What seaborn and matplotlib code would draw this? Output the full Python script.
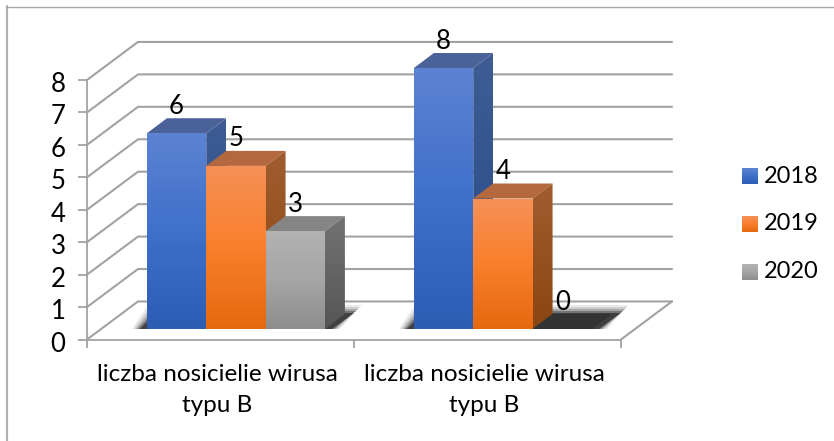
"""
Wykres słupkowy 3D (nosiciele wirusa typu B) odtworzony w seaborn
"""
import pandas as pd
import numpy as np
import matplotlib
matplotlib.use('Agg')
import matplotlib.pyplot as plt
import seaborn as sns
from matplotlib.colors import LinearSegmentedColormap
from matplotlib.lines import Line2D
from matplotlib.patches import Polygon
from matplotlib.transforms import ScaledTranslation

# --- dane ---
category_ids = [0, 1]
category_labels = ['liczba nosicielie wirusa\ntypu B', 'liczba nosicielie wirusa\ntypu B']
years = ['2018', '2019', '2020']
values_2018 = [6, 8]
values_2019 = [5, 4]
values_2020 = [3, 0]

# --- kolory ---
face_colors = {'2018': ('#5C83D2', '#3F70CA', '#2D5DB3'),
               '2019': ('#F59056', '#FA7F2C', '#E4690F'),
               '2020': ('#B2B2B2', '#A5A5A5', '#8E8E8E')}
side_colors = {'2018': ('#3F5C94', '#254A86'),
               '2019': ('#A05D30', '#8A4510'),
               '2020': ('#727272', '#565656')}
top_colors = {'2018': '#4A6298', '2019': '#B4683E', '2020': '#858585'}
zero_color = '#333333'
grid_color = '#A2A2A2'

W, H = 834, 441
sns.set_theme(style='white')
plt.rcParams['font.family'] = ['Lato', 'DejaVu Sans']


def px_axes(fig, left, top, right, bottom, **kw):
    return fig.add_axes([left / W, 1 - bottom / H, (right - left) / W, (bottom - top) / H], **kw)


def gradient_poly(ax, verts, colors, zorder):
    """wielokąt z pionowym gradientem (colors od góry do dołu)"""
    poly = Polygon(verts, closed=True, fc='none', ec='none')
    ax.add_patch(poly)
    cmap = LinearSegmentedColormap.from_list('g', list(colors)[::-1])
    xs = [v[0] for v in verts]
    ys = [v[1] for v in verts]
    im = ax.imshow(np.linspace(0, 1, 64).reshape(-1, 1), cmap=cmap, origin='lower', aspect='auto',
                   extent=[min(xs), max(xs), min(ys), max(ys)], zorder=zorder)
    im.set_clip_path(poly)


df = pd.DataFrame({
    'kategoria': category_ids * 3,
    'rok': [y for y in years for _ in category_ids],
    'liczba': values_2018 + values_2019 + values_2020,
})

fig = plt.figure(figsize=(W / 100, H / 100), dpi=100, facecolor='white')

# ramka wykresu
fig.add_artist(Line2D([6.8 / W, 6.8 / W], [1 - 6 / H, 0], color='#B0B0B0', lw=1.6))
fig.add_artist(Line2D([6 / W, 1], [1 - 6.5 / H, 1 - 6.5 / H], color='#A8A8A8', lw=1.0))

# --- płaszczyzna przednia: osie i siatka ---
frame = px_axes(fig, 87, 80, 621, 339.5)
frame.set_xlim(-0.5, 1.5)
frame.set_ylim(0, 8)
frame.patch.set_alpha(0)
for name in ['top', 'right']:
    frame.spines[name].set_visible(False)
for name in ['left', 'bottom']:
    frame.spines[name].set_color(grid_color)
    frame.spines[name].set_linewidth(1.3)
frame.set_yticks(range(9))
frame.set_xticks([-0.5, 0.5, 1.5])
frame.set_xticklabels([])
frame.set_xticks(category_ids, minor=True)
frame.set_xticklabels(category_labels, minor=True, fontsize=17.5, color='black', linespacing=1.58)
frame.tick_params(axis='y', length=6.5, width=1.3, color=grid_color, left=True, pad=9,
                  labelsize=18.5, labelcolor='black')
frame.tick_params(axis='x', which='major', length=5.5, width=1.3, color=grid_color, bottom=True)
frame.tick_params(axis='x', which='minor', length=0, pad=17.5)

# etykiety osi lekko w lewo / w dół jak w oryginale
shift_x = ScaledTranslation(-3 / 100, 0, fig.dpi_scale_trans)
for lab in frame.get_xticklabels(minor=True):
    lab.set_transform(lab.get_transform() + shift_x)
shift_y = ScaledTranslation(0, -2 / 100, fig.dpi_scale_trans)
for lab in frame.get_yticklabels():
    lab.set_transform(lab.get_transform() + shift_y)

back_x = 51 / 267
back_y = 38 / 32.4
for i in range(9):
    frame.plot([-0.5, -0.5 + back_x, 1.5 + back_x], [i, i + back_y, i + back_y],
               color=grid_color, lw=1.5, clip_on=False, zorder=1, solid_joinstyle='miter')
frame.plot([1.5, 1.5 + back_x], [0, back_y], color=grid_color, lw=1.5, clip_on=False, zorder=1)

# --- słupki ---
ax = px_axes(fig, 102.4, 35.4, 636.4, 329)
ax.patch.set_alpha(0)
sns.barplot(data=df, x='kategoria', y='liczba', hue='rok', hue_order=years, width=2 / 3, gap=0,
            palette={y: face_colors[y][1] for y in years}, errorbar=None, legend=False,
            linewidth=0, ax=ax)
ax.set_xlim(-0.5, 1.5)
ax.set_ylim(0, 9)
ax.set_autoscale_on(False)
ax.axis('off')

depth_x = 20 / 267
depth_y = 15 / 32.6
px_x = 1 / 267
px_y = 1 / 32.6

# cień na podłodze
for k, cat in enumerate(category_ids):
    bars = [c.patches[k] for c in ax.containers]
    x0 = min(b.get_x() for b in bars)
    x1 = max(b.get_x() + b.get_width() for b in bars)
    for grow, alpha in [(7, 0.08), (5, 0.12), (3, 0.18), (1, 0.30), (-1, 0.45)]:
        g = grow * px_x
        shadow = Polygon([(x0 - 8 * px_x - g, 0), (x1 + 8 * px_x + g, 0),
                          (x1 + 30 * px_x + g, 17 * px_y + grow * px_y),
                          (x0 + 8 * px_x - g, 17 * px_y + grow * px_y)],
                         closed=True, fc='black', ec='none', alpha=alpha, zorder=1.5)
        ax.add_patch(shadow)

# ściany boczne, górne i gradient frontu - od lewej do prawej
z = 2
for k, cat in enumerate(category_ids):
    for year, cont in zip(years, ax.containers):
        bar = cont.patches[k]
        x0, x1 = bar.get_x(), bar.get_x() + bar.get_width()
        h = bar.get_height()
        top = Polygon([(x0, h), (x1, h), (x1 + depth_x, h + depth_y), (x0 + depth_x, h + depth_y)],
                      closed=True, ec='none', fc=top_colors[year] if h > 0 else zero_color, zorder=z)
        ax.add_patch(top)
        bar.set_zorder(z)
        if h > 0:
            gradient_poly(ax, [(x1, 0), (x1 + depth_x, depth_y), (x1 + depth_x, h + depth_y), (x1, h)],
                          side_colors[year], z)
            gradient_poly(ax, [(x0, 0), (x1, 0), (x1, h), (x0, h)], face_colors[year], z + 0.5)
        ax.annotate(str(int(h)), (bar.get_x() + bar.get_width() / 2, h), xytext=(0, 19.4),
                    textcoords='offset points', ha='center', va='center', fontsize=18.5,
                    color='black', zorder=20, annotation_clip=False)
        z += 1

# --- legenda ---
for year, yc in zip(years, [176, 224, 272]):
    sw = px_axes(fig, 742, yc - 8, 758, yc + 8)
    sw.axis('off')
    sw.set_xlim(0, 1)
    sw.set_ylim(0, 1)
    gradient_poly(sw, [(0, 0), (1, 0), (1, 1), (0, 1)], face_colors[year], 1)
    fig.text(764 / W, 1 - yc / H, year, fontsize=17, color='black', ha='left', va='center')

fig.savefig('out.png', dpi=100)
